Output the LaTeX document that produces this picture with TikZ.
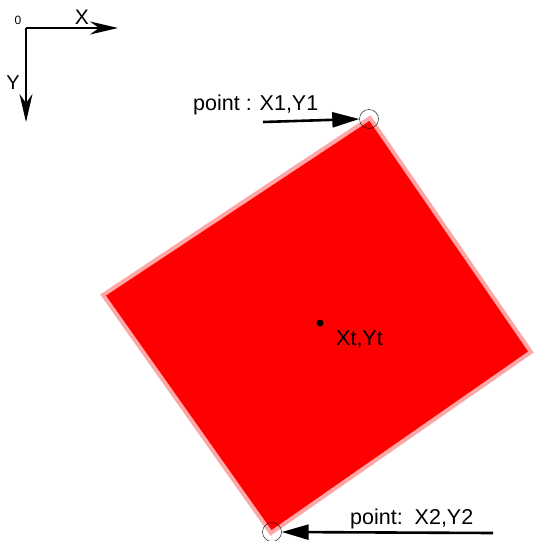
\documentclass[tikz,border=0pt]{standalone}
\usepackage{fontspec}
\setmainfont{Liberation Sans}
\usetikzlibrary{positioning, arrows.meta}

\begin{document}
\begin{tikzpicture}[
  x=1pt, y=-1pt,
  font=\fontsize{21.5}{24}\selectfont,
  axis/.style={line width=2pt, -{Stealth[length=28pt, width=13pt, inset=9pt]}},
  pointer/.style={line width=2.6pt, -{Triangle[length=27pt, width=15pt]}},
  marker/.style={circle, draw, thin, minimum size=19pt, inner sep=0pt},
  lbl/.style={inner sep=0pt, anchor=base west}
]
\useasboundingbox (0,0) rectangle (538,541);
% axes
\coordinate (o) at (26,28);
\coordinate (xend) at (118,28);
\coordinate (yend) at (26,122);
\draw[axis] (o) -- (xend);
\draw[axis] (o) -- (yend);
\node[font=\fontsize{12}{14}\selectfont] (zero) at (18,20) {0};
\node[font=\fontsize{21}{24}\selectfont] (xlbl) at (82,17) {X};
\node[font=\fontsize{20}{24}\selectfont] (ylbl) at (13,83) {Y};
% rotated block
\coordinate (top) at (370,118);
\coordinate (right) at (531,352);
\coordinate (bottom) at (271,533);
\coordinate (left) at (103,295);
\fill[red] (top) -- (right) -- (bottom) -- (left) -- cycle;
\draw[red!35, line width=4pt, line join=miter] (top) -- (right) -- (bottom) -- (left) -- cycle;
% centre
\node[circle, fill=black, inner sep=0pt, minimum size=7pt] (ctr) at (320,323) {};
\node[lbl] (ctrlbl) at (336,345) {Xt,Yt};
% corner points
\node[marker] (p1) at (369,119) {};
\node[marker] (p2) at (272,532) {};
\node[lbl] (p1lbl) at (193,110) {point : X1,Y1};
\node[lbl] (p2lbl) at (350,524) {point:\ \ X2,Y2};
\coordinate (p1tail) at (263,122);
\coordinate (p2tail) at (493,533);
\draw[pointer] (p1tail) -- (p1.west);
\draw[pointer] (p2tail) -- (p2.east);
\end{tikzpicture}
\end{document}
